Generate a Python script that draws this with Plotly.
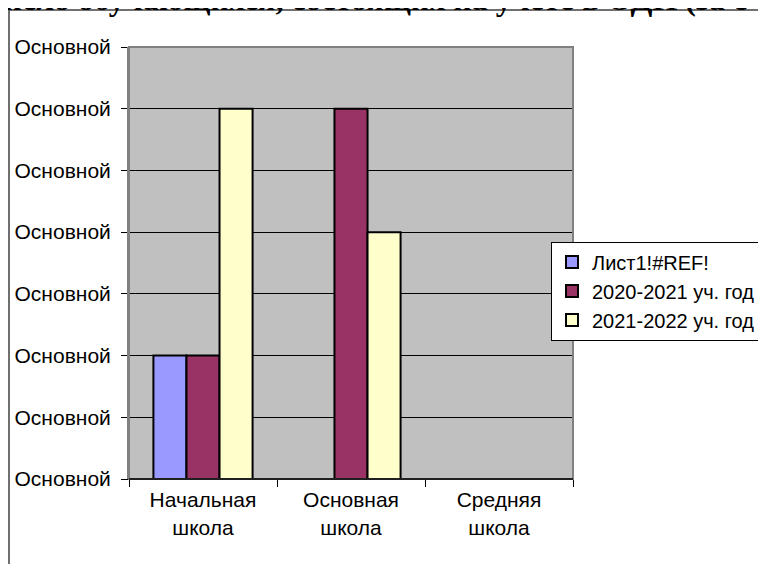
import plotly.graph_objects as go

categories = ["Начальная<br>школа", "Основная<br>школа", "Средняя<br>школа"]
series_names = ["Лист1!#REF!", "2020-2021 уч. год", "2021-2022 уч. год"]
s1_values = [2, None, None]
s2_values = [2, 6, None]
s3_values = [6, 4, None]
y_tickvals = [0, 1, 2, 3, 4, 5, 6, 7]
y_ticktext = ["Основной"] * 8
title_text = "Число обучающихся, состоящих на учете в ОДН (за с"

colors = ["#9999FF", "#993366", "#FFFFCC"]

fig = go.Figure()
for name, vals, c in zip(series_names, [s1_values, s2_values, s3_values], colors):
    fig.add_trace(go.Bar(
        x=categories, y=vals, name=name,
        marker=dict(color=c, line=dict(color="black", width=2)),
    ))

OFF = 8  # page body margin offset
W, H = 766, 564
L, R, T, B = 129 - OFF, 573 - OFF, 47 - OFF, 479 - OFF
pw, ph = R - L, B - T

def px_x(x):
    return (x - OFF - L) / pw

def px_y(y):
    return (B - (y - OFF)) / ph

fig.update_layout(
    width=W, height=H,
    margin=dict(l=L, r=W - R, t=T, b=H - B, pad=0, autoexpand=False),
    paper_bgcolor="white",
    plot_bgcolor="#C0C0C0",
    barmode="group",
    bargap=0.33,
    bargroupgap=0,
    showlegend=True,
    font=dict(family="Liberation Sans, Arial, sans-serif", color="black"),
    legend=dict(
        x=px_x(551), y=px_y(291), xanchor="left", yanchor="middle",
        bgcolor="white", bordercolor="black", borderwidth=1,
        font=dict(size=20, family="Liberation Sans, Arial, sans-serif"),
        tracegroupgap=0,
    ),
    xaxis=dict(
        showgrid=False, ticks="outside", tickson="boundaries", ticklen=7,
        tickcolor="black", tickwidth=1,
        showline=True, linecolor="black", linewidth=1,
        tickfont=dict(size=21),
        ticklabelstandoff=2, automargin=False,
    ),
    yaxis=dict(
        range=[0, 7], tickvals=y_tickvals, ticktext=y_ticktext,
        showgrid=True, gridcolor="black", gridwidth=1,
        ticks="outside", ticklen=6, tickcolor="black",
        showline=True, linecolor="#808080", linewidth=2,
        tickfont=dict(size=21), zeroline=False,
        ticklabelstandoff=6, automargin=False,
    ),
    shapes=[
        dict(type="rect", xref="paper", yref="paper", x0=0, x1=1, y0=0, y1=1,
             line=dict(color="#808080", width=2), layer="above"),
        dict(type="line", xref="paper", yref="paper", x0=0, x1=1, y0=0, y1=0,
             line=dict(color="black", width=1.5), layer="above"),
        dict(type="line", xref="paper", yref="paper", x0=px_x(9), x1=px_x(800),
             y0=px_y(10), y1=px_y(10), line=dict(color="#404040", width=1.5)),
        dict(type="line", xref="paper", yref="paper", x0=px_x(9), x1=px_x(9),
             y0=px_y(10), y1=px_y(600), line=dict(color="#404040", width=1.5)),
    ],
    annotations=[
        dict(text=title_text, xref="paper", yref="paper", x=px_x(-22), y=px_y(19),
             xanchor="left", yanchor="bottom", showarrow=False,
             font=dict(family="Liberation Serif, Times New Roman, serif", size=32,
                       color="black", weight="bold")),
    ],
)

fig.write_html("out.html")
